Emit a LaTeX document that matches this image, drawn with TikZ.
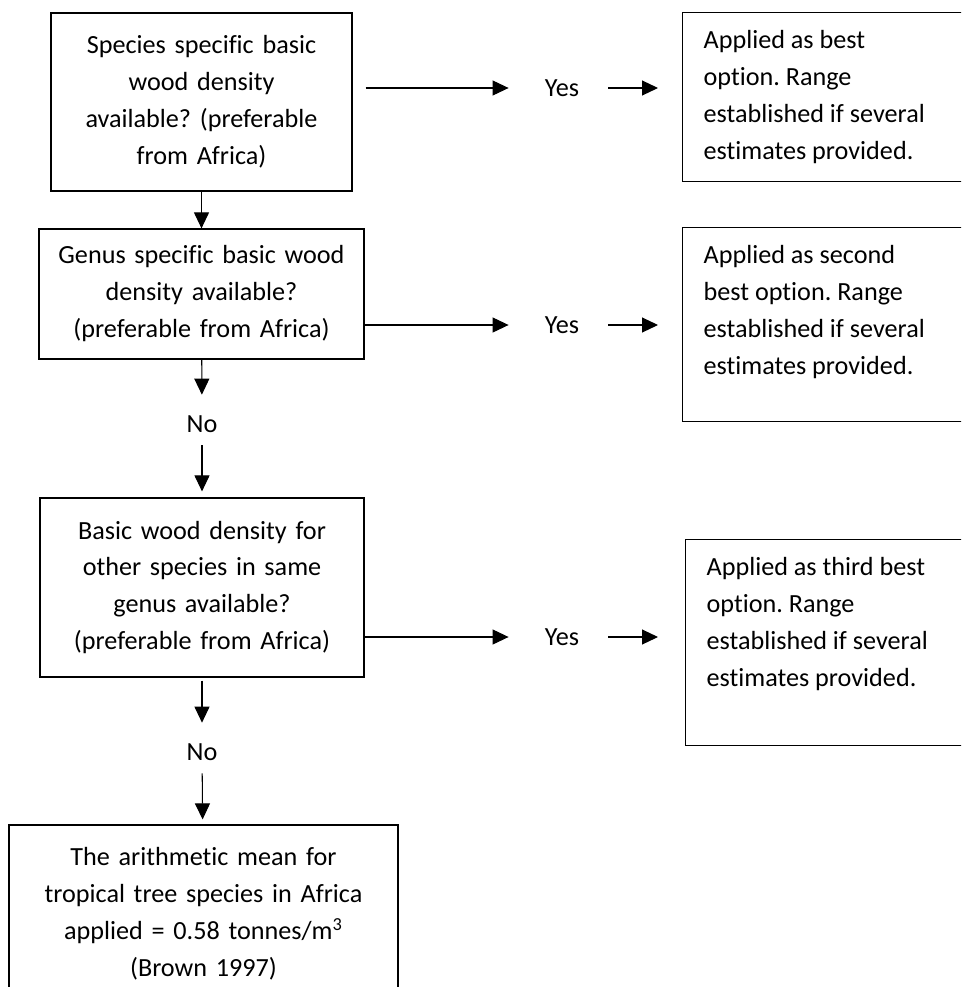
\documentclass[tikz,border=0pt]{standalone}
\usepackage{fontspec}
\setmainfont{Carlito}[Ligatures=NoCommon]
\usetikzlibrary{arrows.meta}
\frenchspacing

\begin{document}
\begin{tikzpicture}[x=0.02cm,y=-0.02cm,
   font=\fontsize{14.9}{21.05}\selectfont,
   >={Triangle[length=0.32cm,width=0.3cm]},
   box/.style={draw,line width=0.7pt,align=center,inner sep=0pt},
   rbox/.style={draw,line width=0.7pt,anchor=north west,inner xsep=0.42cm,inner ysep=0.35cm},
   arr/.style={->,line width=0.6pt}]
   \useasboundingbox (0,0) rectangle (961,987);
   \clip (0,0) rectangle (961,987);

   \node[box,text width=6.02cm,minimum height=3.56cm] (a) at (201.5,102)
      {Species specific basic\\wood density\\available? (preferable\\from Africa)};
   \node[box,text width=6.5cm,minimum height=2.6cm] (b) at (201.5,294)
      {Genus specific basic wood\\density available?\\(preferable from Africa)};
   \node[box,text width=6.48cm,minimum height=3.58cm] (c) at (202,587.5)
      {Basic wood density for\\other species in same\\genus available?\\(preferable from Africa)};
   \node[box,text width=7.78cm,minimum height=3.56cm] (d) at (203.5,914)
      {The arithmetic mean for\\tropical tree species in Africa\\applied = 0.58 tonnes/m\textsuperscript{3}\\(Brown 1997)};

   \node[inner sep=0pt] (ya) at (562,88) {Yes};
   \node[inner sep=0pt] (yb) at (562,325) {Yes};
   \node[inner sep=0pt] (yc) at (562,637) {Yes};
   \node[inner sep=0pt] (nb) at (202,424) {No};
   \node[inner sep=0pt] (nc) at (202,752) {No};

   \node[rbox] (ra) at (682,12) {\parbox[c][2.68cm][t]{5.6cm}{Applied as best\\option. Range\\established if several\\estimates provided.}};
   \node[rbox] (rb) at (682,227) {\parbox[c][3.18cm][t]{5.6cm}{Applied as second\\best option. Range\\established if several\\estimates provided.}};
   \node[rbox] (rc) at (685,539) {\parbox[c][3.42cm][t]{5.6cm}{Applied as third best\\option. Range\\established if several\\estimates provided.}};

   \draw[arr] (a) -- (b);
   \draw[arr,shorten >=0.41cm] (b) -- (nb);
   \draw[arr,shorten <=0.25cm,shorten >=0.12cm] (nb) -- (c);
   \draw[arr,shorten <=0.06cm,shorten >=0.41cm] (c) -- (nc);
   \draw[arr,shorten <=0.25cm,shorten >=0.1cm] (nc) -- (d);

   \draw[arr,shorten <=0.26cm,shorten >=0.72cm] (a.east |- ya) -- (ya.west);
   \draw[arr,shorten >=0.72cm] (b.east |- yb) -- (yb.west);
   \draw[arr,shorten >=0.72cm] (c.east |- yc) -- (yc.west);
   \draw[arr,shorten <=0.58cm,shorten >=0.48cm] (ya.east) -- (ya -| ra.west);
   \draw[arr,shorten <=0.58cm,shorten >=0.48cm] (yb.east) -- (yb -| rb.west);
   \draw[arr,shorten <=0.58cm,shorten >=0.54cm] (yc.east) -- (yc -| rc.west);
\end{tikzpicture}
\end{document}
